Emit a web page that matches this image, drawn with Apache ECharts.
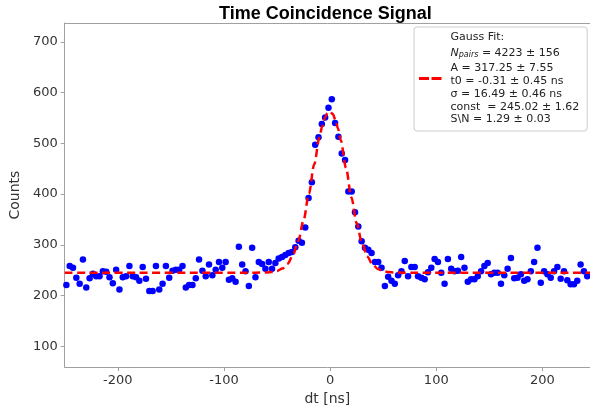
<!DOCTYPE html>
<html>
<head>
<meta charset="utf-8">
<title>Time Coincidence Signal</title>
<script src="https://cdn.jsdelivr.net/npm/echarts@6/dist/echarts.min.js"></script>
<style>
  html, body { margin: 0; padding: 0; background: #fff; }
  #chart { width: 590px; height: 411px; }
</style>
</head>
<body>
<div id="chart"></div>
<script>
// histogram binning (dt in ns)
const BIN_LO = -250
const BIN_W = 3.125

// counts per bin
const counts = [
  221, 258, 255, 235, 223, 271, 216, 234, 243, 238,
  238, 248, 247, 236, 224, 251, 212, 236, 238, 258,
  238, 236, 229, 256, 233, 209, 209, 258, 212, 223,
  258, 235, 249, 251, 251, 258, 216, 221, 221, 234,
  271, 249, 238, 261, 240, 251, 266, 255, 266, 231,
  234, 227, 296, 261, 248, 219, 294, 236, 266, 262,
  253, 266, 253, 264, 273, 276, 280, 284, 286, 295,
  308, 304, 334, 392, 423, 497, 512, 538, 551, 570,
  587, 540, 513, 480, 467, 405, 405, 364, 336, 307,
  294, 290, 284, 266, 266, 255, 219, 237, 229, 223,
  240, 248, 268, 238, 256, 256, 238, 235, 232, 246,
  255, 272, 266, 245, 223, 272, 253, 248, 249, 276,
  255, 227, 232, 232, 238, 248, 258, 264, 242, 245,
  245, 223, 240, 253, 274, 234, 235, 242, 229, 232,
  248, 266, 294, 225, 248, 242, 235, 248, 256, 233,
  248, 230, 222, 222, 229, 261, 248, 238
]

// gauss fit curve, tabulated (dt, value)
const fitX = [
  -250, -80, -70, -60, -55, -50, -45, -40, -35, -30, -25, -20, -15, -10,
  -7.5, -5, -2.5, 0, 2.5, 5, 7.5, 10, 15, 20, 25, 30, 35, 40, 45, 50,
  55, 60, 70, 80, 250
]
const fitY = [
  245.02, 245.02, 245.06, 245.47, 246.32, 248.41, 253.08, 262.54, 279.72, 307.75,
  348.43, 400.54, 458.35, 511.96, 533.50, 549.69, 559.48, 562.21, 557.70, 546.24,
  528.61, 505.95, 451.19, 393.61, 342.70, 303.60, 277.06, 261.01, 252.30, 248.04,
  246.16, 245.41, 245.06, 245.02, 245.02
]

// fit result text for the legend box
const fitLines = [
  'A = 317.25 ± 7.55',
  't0 = -0.31 ± 0.45 ns',
  'σ = 16.49 ± 0.46 ns',
  'const  = 245.02 ± 1.62',
  'S\\N = 1.29 ± 0.03'
]
const nPairs = '4223 ± 156'

const xTicks = [-200, -100, 0, 100, 200]
const yTicks = [100, 200, 300, 400, 500, 600, 700]

const AXIS_GREY = '#a0a0a0'
const TEXT_COL = '#333'
const FONT = 'DejaVu Sans'
// the picture is cut at the right, a bit before dt = 250
const X_MIN = -250
const X_MAX = 244.8

function buildPoints() {
  return counts.map((c, i) => [BIN_LO + BIN_W * (i + 0.5), c])
}

function buildFit() {
  return fitX.map((x, i) => [x, fitY[i]])
}

function legendText() {
  const rows = ['{t|Gauss Fit:}', '{i|N}{s|pairs}{t| = ' + nPairs + '}']
  fitLines.forEach(l => rows.push('{t|' + l + '}'))
  return rows.join('\n')
}

function axisCommon(ticks) {
  return {
    axisLine: { show: true, onZero: false, lineStyle: { color: AXIS_GREY, width: 1 } },
    axisTick: {
      show: true, inside: false, length: 4,
      lineStyle: { color: AXIS_GREY }, customValues: ticks
    },
    axisLabel: {
      color: TEXT_COL, fontFamily: FONT, fontSize: 13, margin: 7,
      customValues: ticks
    },
    splitLine: { show: false },
    nameTextStyle: { color: TEXT_COL, fontFamily: FONT, fontSize: 14 }
  }
}

const option = {
  animation: false,
  backgroundColor: '#fff',
  title: {
    text: 'Time Coincidence Signal',
    left: 214, top: 0,
    textStyle: { fontFamily: 'Liberation Sans', fontSize: 18, fontWeight: 'bold', color: '#000' }
  },
  grid: { left: 63, right: 0, top: 23, bottom: 41 },
  legend: {
    data: [{ name: 'fit', icon: 'path://M0,0h10v3h-10z M12.5,0h10v3h-10z' }],
    left: 414, top: 27,
    orient: 'vertical',
    padding: [5, 8, 6, 5],
    itemWidth: 22.5, itemHeight: 3, itemGap: 0,
    backgroundColor: '#fff',
    borderColor: '#cccccc', borderWidth: 1, borderRadius: 3,
    formatter: legendText,
    textStyle: {
      fontFamily: FONT, fontSize: 11, color: '#222', padding: [0, 0, 0, 4],
      rich: {
        t: { fontFamily: FONT, fontSize: 11, color: '#222', lineHeight: 12.8 },
        i: { fontFamily: FONT, fontSize: 11, fontStyle: 'italic', color: '#222', lineHeight: 18 },
        s: { fontFamily: FONT, fontSize: 8, fontStyle: 'italic', color: '#222', lineHeight: 18, padding: [5, 0, 0, 0] }
      }
    }
  },
  xAxis: [
    Object.assign({
      type: 'value', min: X_MIN, max: X_MAX,
      name: 'dt [ns]', nameLocation: 'middle', nameGap: 22
    }, axisCommon(xTicks)),
    {
      // top frame line
      type: 'value', position: 'top', min: X_MIN, max: X_MAX,
      axisLine: { show: true, lineStyle: { color: AXIS_GREY, width: 1 } },
      axisTick: { show: false }, axisLabel: { show: false }, splitLine: { show: false }
    }
  ],
  yAxis: Object.assign({
    type: 'value', min: 59, max: 737,
    name: 'Counts', nameLocation: 'middle', nameGap: 34
  }, axisCommon(yTicks)),
  series: [
    {
      name: 'data', type: 'scatter', data: buildPoints(),
      symbolSize: 6.5,
      itemStyle: { color: '#0000ff', opacity: 1 },
      z: 2
    },
    {
      name: 'fit', type: 'line', data: buildFit(),
      smooth: 0.3, smoothMonotone: 'x',
      showSymbol: false, symbol: 'none',
      lineStyle: { color: '#ff0000', width: 2.5, type: [8, 4.5] },
      itemStyle: { color: '#ff0000' },
      z: 3
    }
  ]
}

const chart = echarts.init(document.getElementById('chart'))
chart.setOption(option)
</script>
</body>
</html>
